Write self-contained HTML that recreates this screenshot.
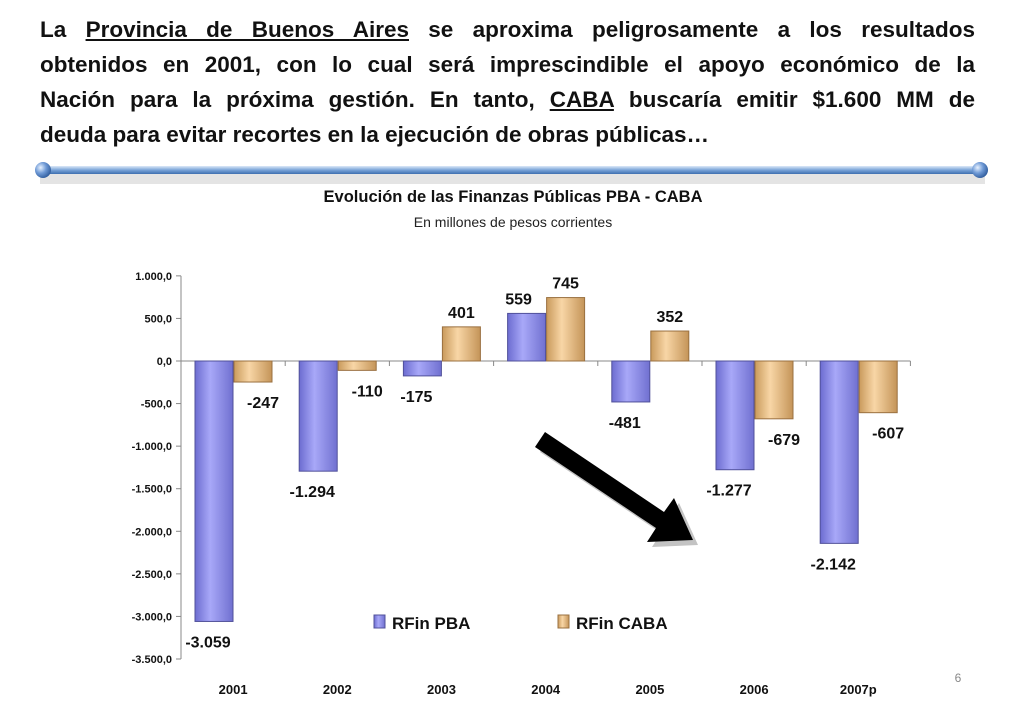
<!DOCTYPE html>
<html><head><meta charset="utf-8">
<style>
body{margin:0;width:1023px;height:708px;background:#fff;overflow:hidden;font-family:"Liberation Sans",sans-serif;position:relative}
#hdr{position:absolute;left:40px;top:12px;width:935px;font-weight:bold;font-size:22.5px;line-height:35px;color:#111}
#hdr div{text-align:justify;text-align-last:justify;white-space:nowrap}
#hdr div.last{text-align-last:left}
#hdr u{text-decoration:underline}
svg{position:absolute;left:0;top:0}
</style></head><body>
<div id="hdr">
<div>La <u>Provincia de Buenos Aires</u> se aproxima peligrosamente a los resultados</div>
<div>obtenidos en 2001, con lo cual será imprescindible el apoyo económico de la</div>
<div>Nación para la próxima gestión. En tanto, <u>CABA</u> buscaría emitir $1.600 MM de</div>
<div class="last">deuda para evitar recortes en la ejecución de obras públicas…</div>
</div>
<svg id="chart" width="1023" height="708">
<defs>
<linearGradient id="rod" x1="0" y1="0" x2="0" y2="1"><stop offset="0" stop-color="#dce9f8"/><stop offset="0.5" stop-color="#7aa4d8"/><stop offset="1" stop-color="#3d6fb0"/></linearGradient>
<radialGradient id="ball" cx="0.35" cy="0.35" r="0.7"><stop offset="0" stop-color="#e8f2ff"/><stop offset="0.5" stop-color="#6f9ad6"/><stop offset="1" stop-color="#2f5c9c"/></radialGradient>
<linearGradient id="gPBA" x1="0" y1="0" x2="1" y2="0"><stop offset="0" stop-color="#6c6cd0"/><stop offset="0.4" stop-color="#a8a8f8"/><stop offset="1" stop-color="#7070d0"/></linearGradient>
<linearGradient id="gCABA" x1="0" y1="0" x2="1" y2="0"><stop offset="0" stop-color="#c99a5c"/><stop offset="0.4" stop-color="#f8d6a6"/><stop offset="1" stop-color="#c49458"/></linearGradient>
</defs>
<g>
<rect x="40" y="174" width="945" height="10" fill="#bbb" opacity="0.4"/>
<rect x="40" y="166" width="945" height="8" rx="4" fill="url(#rod)"/>
<circle cx="43" cy="170" r="8" fill="url(#ball)"/>
<circle cx="980" cy="170" r="8" fill="url(#ball)"/>
</g>
<text x="513" y="202" text-anchor="middle" font-weight="bold" font-size="16.5" fill="#111">Evolución de las Finanzas Públicas PBA - CABA</text>
<text x="513" y="227" text-anchor="middle" font-size="14" fill="#222">En millones de pesos corrientes</text>
<g>
<polygon points="545,432 664,512 674,498 693,540 647,542 656,528 535,447" fill="#888" opacity="0.5" transform="translate(5,5)"/>
<polygon points="545,432 664,512 674,498 693,540 647,542 656,528 535,447" fill="#000"/>
</g>
<text x="958" y="682" text-anchor="middle" font-size="12" fill="#888">6</text>
</svg>
<script>
const categories=["2001","2002","2003","2004","2005","2006","2007p"];
const pbaValues=[-3059,-1294,-175,559,-481,-1277,-2142];
const cabaValues=[-247,-110,401,745,352,-679,-607];
const pbaLabels=["-3.059","-1.294","-175","559","-481","-1.277","-2.142"];
const cabaLabels=["-247","-110","401","745","352","-679","-607"];
const yTicks=[1000,500,0,-500,-1000,-1500,-2000,-2500,-3000,-3500];
const yTickLabels=["1.000,0","500,0","0,0","-500,0","-1.000,0","-1.500,0","-2.000,0","-2.500,0","-3.000,0","-3.500,0"];

const svg=document.getElementById('chart');
const NS='http://www.w3.org/2000/svg';
const X0=181,CW=104.2,Y0=361,K=298/3500;
const y=v=>Y0-v*K;
const cx=i=>X0+CW*i;
function mk(t,a,txt){const e=document.createElementNS(NS,t);for(const k in a)e.setAttribute(k,a[k]);if(txt!==undefined)e.textContent=txt;svg.appendChild(e);return e;}
let e=mk('line',{x1:X0,y1:y(1000),x2:X0,y2:y(-3500),stroke:'#888'});


yTicks.forEach((v,i)=>{
 let t=mk('line',{x1:X0-5,y1:y(v),x2:X0,y2:y(v),stroke:'#888'});
 
 
 let l=mk('text',{x:X0-9,y:y(v)+4,'text-anchor':'end','font-size':'11','font-weight':'bold',fill:'#111'},yTickLabels[i]);
 
 
});
e=mk('line',{x1:X0,y1:Y0,x2:X0+CW*7,y2:Y0,stroke:'#888'});


categories.forEach((c,i)=>{
 let t=mk('line',{x1:cx(i+1),y1:Y0,x2:cx(i+1),y2:Y0+5,stroke:'#888'});
 
 
 let l=mk('text',{x:cx(i)+CW/2,y:694,'text-anchor':'middle','font-size':'13','font-weight':'bold',fill:'#111'},c);
 
 
 [[pbaValues,pbaLabels,'url(#gPBA)',14,'pba',-6],[cabaValues,cabaLabels,'url(#gCABA)',53,'caba',10]].forEach(([vals,labs,fill,off,nm,dx])=>{
  const v=vals[i],x=cx(i)+off,w=38,top=Math.min(y(v),Y0),h=Math.abs(y(v)-Y0);
  let b=mk('rect',{x:x,y:top,width:w,height:h,fill:fill,stroke:nm=='pba'?'#50509a':'#9a7040','stroke-width':'1'});
  
  
  const ly=v<0?y(v)+26:y(v)-9;
  let l=mk('text',{x:x+w/2+(v<0?dx:(nm=='pba'?-8:0)),y:ly,'text-anchor':'middle','font-size':'16','font-weight':'bold',fill:'#111'},labs[i]);
  
  
 });
});
e=mk('rect',{x:374,y:615,width:11,height:13,fill:'url(#gPBA)',stroke:'#50509a'});


e=mk('text',{x:392,y:629,'font-size':'17','font-weight':'bold',fill:'#111'},'RFin PBA');


e=mk('rect',{x:558,y:615,width:11,height:13,fill:'url(#gCABA)',stroke:'#9a7040'});


e=mk('text',{x:576,y:629,'font-size':'17','font-weight':'bold',fill:'#111'},'RFin CABA');


</script>
</body></html>
